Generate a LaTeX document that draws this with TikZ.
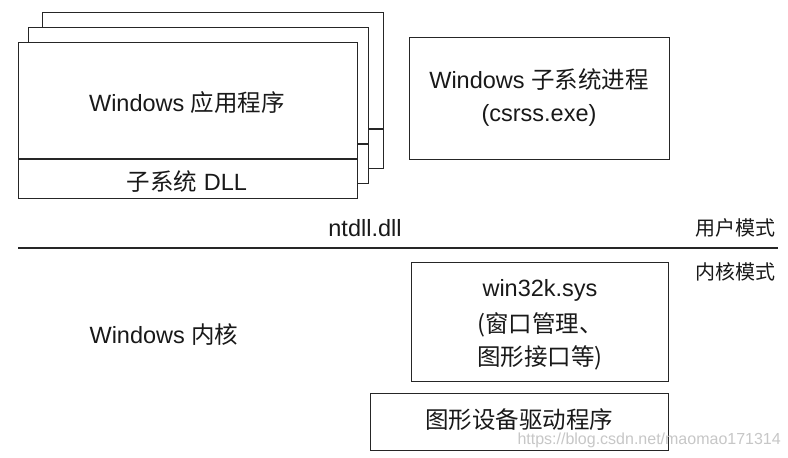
\documentclass[tikz,border=0pt]{standalone}
\usepackage{fontspec}
\setmainfont{Liberation Sans}
\newfontfamily\cjk{Noto Sans CJK SC}
\newcommand{\zh}[1]{{\cjk #1}}
\begin{document}
\begin{tikzpicture}[x=1pt,y=-1pt,
  box/.style={draw=black!85,line width=1.2pt,fill=white,anchor=north west,inner sep=0pt},
  txt/.style={font=\fontsize{23.5}{27}\selectfont,inner sep=0pt,text=black!90},
  small/.style={font=\fontsize{20}{24}\selectfont,inner sep=0pt,text=black!90}]
\useasboundingbox[fill=white] (0,0) rectangle (788,458);
% stacked application boxes
\node[box,minimum width=341pt,minimum height=156pt] (back) at (42,12) {};
\draw[line width=1.2pt,black!85] (back.west |- 0,129) -- (back.east |- 0,129);
\node[box,minimum width=340pt,minimum height=156pt] (mid) at (28,27) {};
\draw[line width=1.2pt,black!85] (mid.west |- 0,144) -- (mid.east |- 0,144);
\node[box,minimum width=339pt,minimum height=156pt] (front) at (18,42) {};
\draw[line width=1.2pt,black!85] (front.west |- 0,159) -- (front.east |- 0,159);
\node[txt] (app) at (187,103) {Windows \zh{应用程序}};
\node[txt] (dll) at (187,182) {\zh{子系统} DLL};
% csrss
\node[box,minimum width=260pt,minimum height=122pt] (csrss) at (409,37) {};
\node[txt,align=center] (csrsst) at (539,98) {Windows \zh{子系统进程}\\[6pt](csrss.exe)};
% divider
\node[txt] (ntdll) at (365,228) {ntdll.dll};
\node[small] (user) at (735,228) {\zh{用户模式}};
\coordinate (l1) at (18,248);
\coordinate (l2) at (778,248);
\draw[line width=1.2pt,black!85] (l1) -- (l2);
\node[small] (kern) at (735,272) {\zh{内核模式}};
% kernel
\node[txt] (wk) at (164,335) {Windows \zh{内核}};
\node[box,minimum width=257pt,minimum height=119pt] (win32k) at (411,262) {};
\node[txt] (w1) at (540,290) {win32k.sys};
\node[txt,anchor=west] (w2) at (477,325) {\zh{(窗口管理、}};
\node[txt,anchor=west] (w3) at (477,358) {\zh{图形接口等)}};
\node[box,minimum width=298pt,minimum height=57pt] (gdd) at (370,393) {};
\node[txt] (gddt) at (519,420) {\zh{图形设备驱动程序}};
\node[font=\fontsize{16}{19}\selectfont,text=black!22,anchor=east,inner sep=0pt] (wm) at (781,440) {https://blog.csdn.net/maomao171314};
\end{tikzpicture}
\end{document}
